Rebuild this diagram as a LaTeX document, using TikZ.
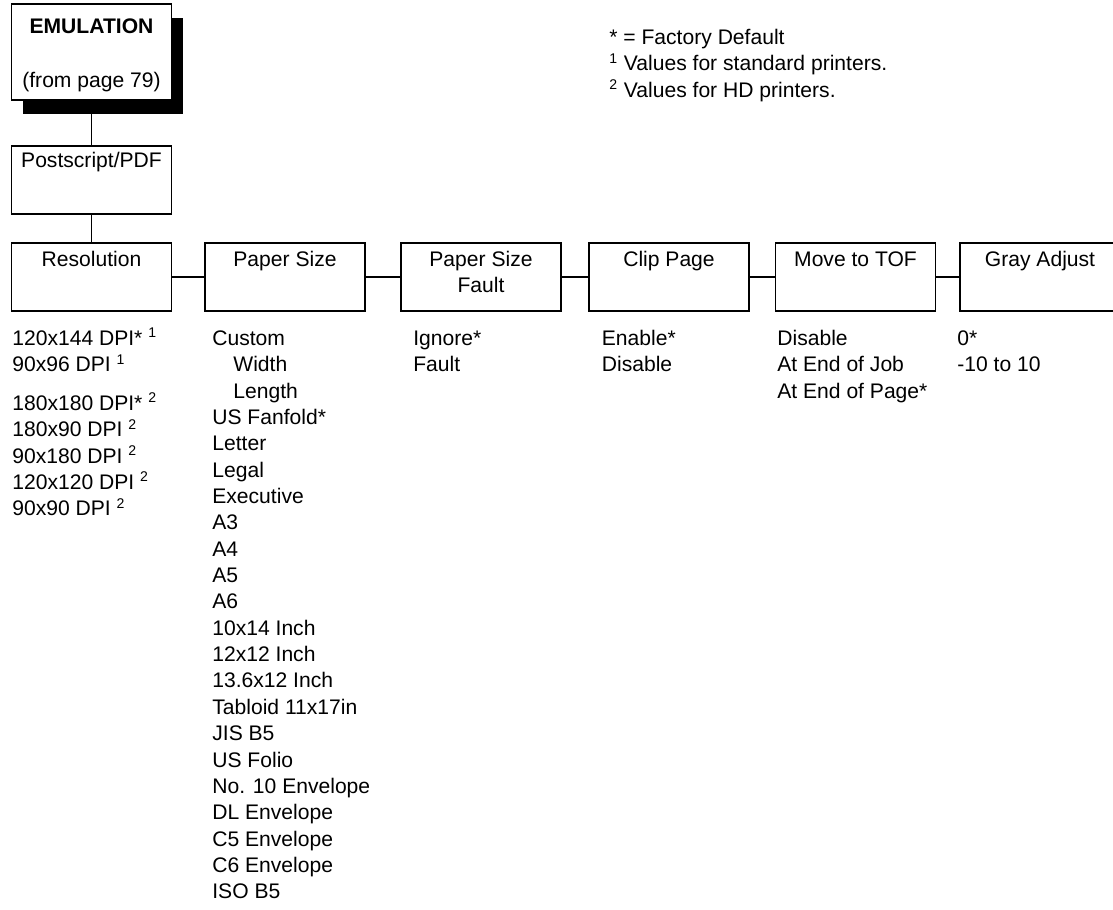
\documentclass[tikz,border=0pt]{standalone}
\usepackage{fontspec}
\setmainfont{Liberation Sans}
\usetikzlibrary{shadows}

\tikzset{
  menubox/.style={draw,line width=1.1pt,minimum width=3.2cm,minimum height=1.36cm,inner sep=0pt},
  boxtitle/.style={anchor=north,align=center,inner sep=0pt,yshift=-0.11cm},
  optlist/.style={anchor=north west,align=left,inner sep=0pt},
  link/.style={line width=0.8pt}
}

\begin{document}
\begin{tikzpicture}[x=1cm,y=1cm,font=\fontsize{12}{15}\selectfont]
  \useasboundingbox (0,0) rectangle (22.26,-18.18);
  \node[menubox,minimum height=1.92cm,fill=white,align=center,
    drop shadow={shadow xshift=0.23cm,shadow yshift=-0.27cm,fill=black,opacity=1}]
    (emu) at (1.83,-1.04) {\rule{0pt}{0.42cm}\textbf{EMULATION}\\[0.55cm](from page 79)};
  \node[menubox,label={[boxtitle,yshift=0.04cm]north:\strut Postscript/PDF}] (ps) at (1.83,-3.60) {};
  \node[menubox,label={[boxtitle]north:\strut Resolution}] (res) at (1.83,-5.54) {};
  \node[menubox,label={[boxtitle]north:\strut Paper Size}] (psize) at (5.70,-5.54) {};
  \node[menubox,label={[boxtitle]north:{\strut Paper Size\\Fault}}] (psfault) at (9.62,-5.54) {};
  \node[menubox,label={[boxtitle]north:\strut Clip Page}] (clip) at (13.38,-5.54) {};
  \node[menubox,label={[boxtitle]north:\strut Move to TOF}] (tof) at (17.11,-5.54) {};
  \node[menubox,label={[boxtitle]north:\strut Gray Adjust}] (gray) at (20.80,-5.54) {};

  \draw[link] (emu) -- (ps);
  \draw[link] (ps) -- (res);
  \draw[link] (res) -- (psize);
  \draw[link] (psize) -- (psfault);
  \draw[link] (psfault) -- (clip);
  \draw[link] (clip) -- (tof);
  \draw[link] (tof) -- (gray);

  \node[optlist] (notes) at (12.18,-0.51) {\strut* = Factory Default\\\textsuperscript{1} Values for standard printers.\\\textsuperscript{2} Values for HD printers.};
  \node[optlist] (reslist) at (0.24,-6.53) {\strut 120x144 DPI* \textsuperscript{1}\\90x96 DPI \textsuperscript{1}\\[0.25cm]180x180 DPI* \textsuperscript{2}\\180x90 DPI \textsuperscript{2}\\90x180 DPI \textsuperscript{2}\\120x120 DPI \textsuperscript{2}\\90x90 DPI \textsuperscript{2}};
  \node[optlist] (sizelist) at (4.24,-6.53) {\strut Custom\\\hspace*{0.42cm}Width\\\hspace*{0.42cm}Length\\US Fanfold*\\Letter\\Legal\\Executive\\A3\\A4\\A5\\A6\\10x14 Inch\\12x12 Inch\\13.6x12 Inch\\Tabloid 11x17in\\JIS B5\\US Folio\\No. 10 Envelope\\DL Envelope\\C5 Envelope\\C6 Envelope\\ISO B5};
  \node[optlist] (faultlist) at (8.26,-6.53) {\strut Ignore*\\Fault};
  \node[optlist] (cliplist) at (12.03,-6.53) {\strut Enable*\\Disable};
  \node[optlist] (toflist) at (15.54,-6.53) {\strut Disable\\At End of Job\\At End of Page*};
  \node[optlist] (graylist) at (19.14,-6.53) {\strut 0*\\-10 to 10};
\end{tikzpicture}
\end{document}
